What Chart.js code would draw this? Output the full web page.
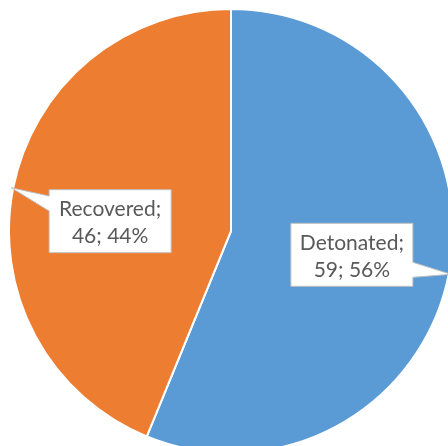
<!DOCTYPE html>
<html>
<head>
<meta charset="utf-8">
<script src="https://cdn.jsdelivr.net/npm/chart.js@4"></script>
<style>
  html, body { margin: 0; padding: 0; background: #fff; width: 448px; height: 446px; overflow: hidden; }
  #wrap { position: absolute; left: 8px; top: 8px; width: 446px; height: 446px; }
</style>
</head>
<body>
<div id="wrap"><canvas id="pieChart"></canvas></div>
<script>
const categories = ['Detonated', 'Recovered'];
const counts = [59, 46];
const colors = ['#5B9BD5', '#ED7D31'];

// callout boxes: box centre at a fraction of the radius, pointer tip on the rim
const calloutPlugin = {
    id: 'callouts',
    afterDatasetsDraw(chart, args, opts) {
        const ctx = chart.ctx;
        const meta = chart.getDatasetMeta(0);
        const total = counts.reduce((a, b) => a + b, 0);
        ctx.save();
        ctx.font = '21px Lato, "Open Sans", sans-serif';
        meta.data.forEach((arc, i) => {
            const mid = (arc.startAngle + arc.endAngle) / 2;
            const r = arc.outerRadius;
            const cx = arc.x + Math.cos(mid) * r * 0.555;
            const cy = arc.y + Math.sin(mid) * r * 0.555 + (opts.nudgeY[i] || 0);
            const tipX = arc.x + Math.cos(mid) * (r + 2);
            const tipY = arc.y + Math.sin(mid) * (r + 2);
            const pct = Math.round(counts[i] / total * 100);
            const lines = [categories[i] + ';', counts[i] + '; ' + pct + '%'];
            const w = 122, h = 63;
            const left = cx - w / 2, top = cy - h / 2, right = cx + w / 2, bottom = cy + h / 2;

            // where the line from centre to tip leaves the box
            const dx = tipX - cx, dy = tipY - cy;
            const pts = [];
            const half = 7.5;
            if (Math.abs(dx) * h > Math.abs(dy) * w) {
                const ex = dx > 0 ? right : left;
                const ey = cy + dy * ((ex - cx) / dx) + 3;
                if (dx > 0) {
                    pts.push([left, top], [right, top], [right, ey - half], [tipX, tipY], [right, ey + half], [right, bottom], [left, bottom]);
                } else {
                    pts.push([left, top], [right, top], [right, bottom], [left, bottom], [left, ey + half], [tipX, tipY], [left, ey - half]);
                }
            } else {
                pts.push([left, top], [right, top], [right, bottom], [left, bottom]);
            }
            ctx.beginPath();
            pts.forEach((p, k) => k ? ctx.lineTo(p[0], p[1]) : ctx.moveTo(p[0], p[1]));
            ctx.closePath();
            ctx.fillStyle = '#ffffff';
            ctx.fill();
            ctx.strokeStyle = '#bfbfbf';
            ctx.lineWidth = 1;
            ctx.stroke();

            ctx.fillStyle = '#595959';
            ctx.textAlign = 'center';
            ctx.textBaseline = 'middle';
            ctx.fillText(lines[0], cx, cy - 12);
            ctx.fillText(lines[1], cx, cy + 15);
        });
        ctx.restore();
    }
};

new Chart(document.getElementById('pieChart'), {
    type: 'pie',
    data: {
        labels: categories,
        datasets: [{
            data: counts,
            backgroundColor: colors,
            borderColor: '#ffffff',
            borderWidth: 2
        }]
    },
    options: {
        responsive: true,
        maintainAspectRatio: false,
        animation: false,
        layout: { padding: 0 },
        plugins: {
            legend: { display: false },
            tooltip: { enabled: false },
            callouts: { nudgeY: [0, 14] }
        }
    },
    plugins: [calloutPlugin]
});
</script>
</body>
</html>
